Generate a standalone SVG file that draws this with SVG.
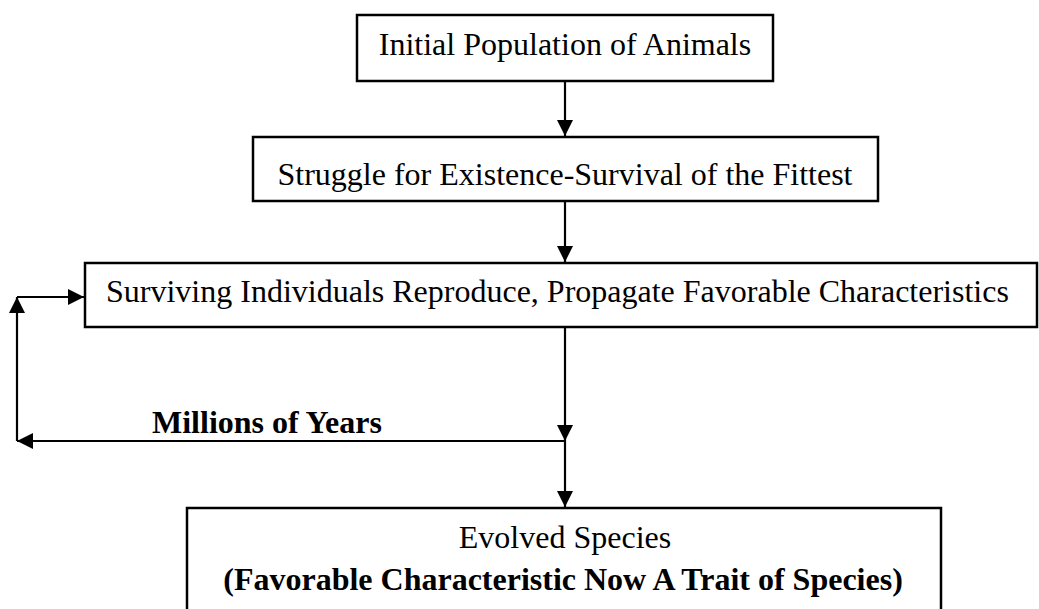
<svg xmlns="http://www.w3.org/2000/svg" width="1039" height="609" viewBox="0 0 1039 609">
  <style>
    .box { fill: #ffffff; stroke: #000000; stroke-width: 2.5; }
    .lbl { font-family: "Liberation Serif", "Times New Roman", serif; font-size: 32px; fill: #000000; }
    .bold { font-weight: bold; }
    .wire { fill: none; stroke: #000000; stroke-width: 2.2; }
  </style>
  <defs>
    <marker id="arrow" markerUnits="userSpaceOnUse" markerWidth="16" markerHeight="16" viewBox="0 0 16 16" refX="16" refY="8" orient="auto">
      <path d="M0,0 L16,8 L0,16 Z" fill="#000000"/>
    </marker>
  </defs>

  <rect width="1039" height="609" fill="#ffffff"/>

  <!-- process steps -->
  <g id="node-initial">
    <rect class="box" x="357" y="15" width="416" height="66"/>
    <text class="lbl" x="565" y="55" text-anchor="middle">Initial Population of Animals</text>
  </g>

  <g id="node-struggle">
    <rect class="box" x="253" y="137" width="625" height="64"/>
    <text class="lbl" x="565" y="185" text-anchor="middle">Struggle for Existence-Survival of the Fittest</text>
  </g>

  <g id="node-reproduce">
    <rect class="box" x="85" y="263" width="952" height="64"/>
    <text class="lbl" x="106" y="302">Surviving Individuals Reproduce, Propagate Favorable Characteristics</text>
  </g>

  <g id="node-evolved">
    <rect class="box" x="187" y="508" width="754" height="120"/>
    <text class="lbl" x="565" y="548" text-anchor="middle">Evolved Species</text>
    <text class="lbl bold" x="563" y="590" text-anchor="middle">(Favorable Characteristic Now A Trait of Species)</text>
  </g>

  <!-- connectors -->
  <g id="connectors">
    <line class="wire" x1="565" y1="81" x2="565" y2="136" marker-end="url(#arrow)"/>
    <line class="wire" x1="565" y1="201" x2="565" y2="262" marker-end="url(#arrow)"/>
    <line class="wire" x1="565" y1="327" x2="565" y2="441" marker-end="url(#arrow)"/>
    <line class="wire" x1="565" y1="441" x2="565" y2="507" marker-end="url(#arrow)"/>
    <!-- feedback loop back to reproduction -->
    <line class="wire" x1="565" y1="441" x2="17" y2="441" marker-end="url(#arrow)"/>
    <line class="wire" x1="17" y1="441" x2="17" y2="297" marker-end="url(#arrow)"/>
    <line class="wire" x1="17" y1="297" x2="84" y2="297" marker-end="url(#arrow)"/>
    <text class="lbl bold" x="152" y="433">Millions of Years</text>
  </g>
</svg>
